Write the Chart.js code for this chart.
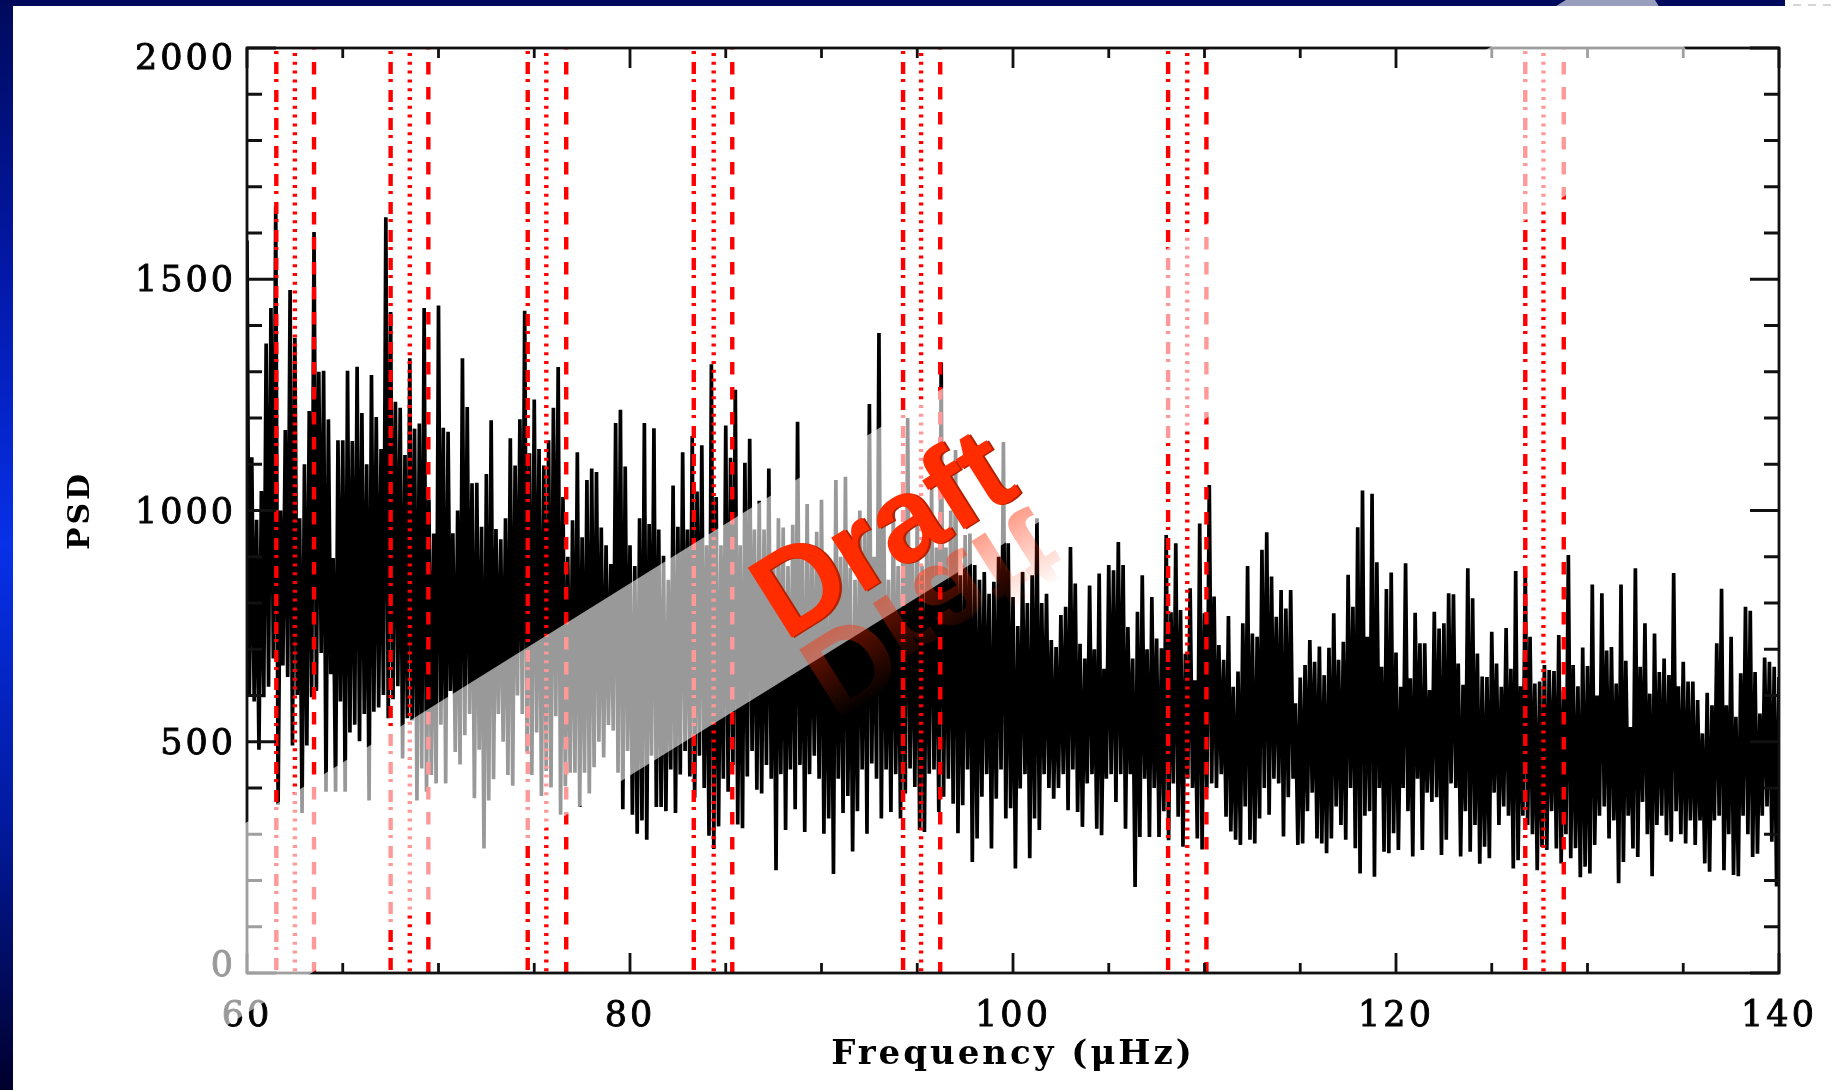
<!DOCTYPE html>
<html><head><meta charset="utf-8">
<style>html,body{margin:0;padding:0;background:#fff}canvas{display:block}</style>
<script src="https://cdn.jsdelivr.net/npm/chart.js@4"></script>
</head><body>
<div style="width:1834px;height:1090px;position:relative"><canvas id="c" width="1834" height="1090"></canvas></div>
<script>
const xLabel = 'Frequency (μHz)';
const yLabel = 'PSD';
const startHz = 60;
const stepHz = 0.25;
const upperPeaks = [
1584,1115,980,1042,1361,1438,1657,1000,1174,1477,
1373,983,1100,1215,1602,1300,1302,1197,897,1152,
1152,1302,1150,1311,1211,1100,1293,1202,1133,1634,
1429,1235,1222,1120,1329,1177,1188,1438,1024,950,
1443,1179,1170,951,1000,1329,1224,1059,1060,965,
1079,1195,960,938,983,1156,1097,1197,1432,1124,
1240,1133,1097,1152,1222,1310,1029,900,979,1126,
942,1066,1091,1083,963,925,884,1189,1218,1095,
925,880,983,1189,971,1178,959,902,850,1054,
965,1126,959,1161,1041,1141,925,1316,1029,925,
1184,1114,1261,925,1103,1155,959,1021,959,1091,
900,983,963,880,969,1192,900,1014,917,954,
1023,860,880,1066,900,1073,876,850,1000,975,
1230,900,1384,1000,850,1000,880,950,1200,900,
1000,880,950,1050,920,1320,920,1000,1131,860,
947,950,882,850,867,820,846,900,1148,929,
813,750,867,800,860,983,800,820,720,705,
774,792,921,842,712,680,838,700,864,658,
882,871,932,882,748,680,781,860,700,813,
723,702,947,780,929,785,690,832,633,972,
778,1055,814,709,677,772,619,652,756,880,
734,727,915,953,857,770,828,788,828,583,
639,666,720,673,706,644,703,778,677,716,
861,792,964,1043,727,1036,888,662,830,866,
693,619,886,637,779,713,713,612,781,745,
756,821,819,669,623,875,810,691,641,640,
738,669,619,746,658,869,620,878,727,626,
630,666,655,653,731,610,904,666,620,704,
664,840,600,821,697,705,626,840,675,532,
875,662,756,604,734,651,680,644,865,620,
673,630,630,590,518,606,579,713,831,579,
727,554,648,792,783,651,561,682,673,662,
640];
const lowerTroughs = [
601,587,483,596,619,680,364,665,640,492,
601,346,492,596,610,692,392,646,392,587,
392,520,537,501,560,373,565,574,601,551,
592,620,464,551,546,373,442,392,428,410,
537,410,610,478,451,514,560,378,483,269,
373,419,560,500,428,405,600,560,478,428,
520,383,437,401,555,342,404,433,433,359,
433,388,445,500,466,536,524,433,354,480,
342,301,330,288,470,359,359,350,440,346,
429,480,425,379,470,400,297,268,317,420,
392,450,321,313,425,480,396,388,450,420,
222,430,309,440,354,450,305,430,470,420,
301,334,214,420,346,383,263,350,440,301,
453,420,334,440,348,430,334,388,442,402,
309,305,431,440,348,381,420,366,302,363,
440,240,291,381,430,269,377,440,334,356,
226,399,430,248,334,309,430,400,377,400,
430,352,440,348,316,410,430,312,298,420,
430,370,430,312,430,186,294,420,294,400,
294,350,287,410,338,273,420,400,291,267,
400,410,400,430,338,306,288,277,360,288,
280,334,400,342,420,410,295,380,420,277,
280,350,390,291,280,259,291,360,320,288,
400,270,215,340,350,208,400,262,259,302,
266,400,350,252,420,266,390,370,380,255,
288,410,400,252,350,262,320,236,273,248,
390,320,360,340,226,244,340,320,300,222,
273,266,350,269,237,300,248,270,207,230,
215,277,340,360,291,330,194,240,340,269,
251,370,300,209,320,340,298,284,350,300,
280,330,277,330,237,219,330,340,222,300,
212,209,340,300,251,258,340,360,284,187,
250];
const dashDotHz = [61.53,67.5,74.66,83.33,94.26,108.1,126.75];
const dottedHz  = [62.5,68.5,75.63,84.37,95.2,109.1,127.7];
const dashedHz  = [63.5,69.47,76.67,85.34,96.2,110.1,128.76];
const xTickLabels = [60,80,100,120,140];
const yTickLabels = [0,500,1000,1500,2000];
const psdRange = [0,2000];
const hzRange = [60,140];

const spectrum = [];
upperPeaks.forEach((p,i)=>{
  spectrum.push({x:startHz+i*stepHz,y:p});
  spectrum.push({x:startHz+(i+0.5)*stepHz,y:lowerTroughs[i]});
});
function marker(hzList,dash,offset){
  return hzList.map(h=>({type:'line',data:[{x:h,y:psdRange[1]},{x:h,y:psdRange[0]}],
    borderColor:'#ff0000',borderWidth:4.4,borderDash:dash,borderDashOffset:offset,
    pointRadius:0,order:1,borderCapStyle:'butt',tension:0}));
}
const overlayPlugin={
  id:'overlay',
  beforeDraw(chart){
    const c=chart.ctx;
    c.save();
    c.fillStyle='#000a5c';c.fillRect(0,0,1785,6);
    const g=c.createLinearGradient(0,0,0,1090);
    g.addColorStop(0,'#000a5c');g.addColorStop(0.25,'#0318a8');g.addColorStop(0.5,'#0730e8');
    g.addColorStop(0.75,'#021aa0');g.addColorStop(1,'#00002c');
    c.fillStyle=g;c.fillRect(0,0,13,1090);
    c.strokeStyle='#c8c8c8';c.lineWidth=1.5;c.setLineDash([8,7]);
    c.beginPath();c.moveTo(1793,5);c.lineTo(1834,5);c.stroke();
    c.restore();
    c.letterSpacing='3px';
    const items=chart.scales.y.getLabelItems();
    items.forEach(it=>{
      if(it.__done)return;it.__done=true;
      if(it.label==='2000')it.options.translation[1]+=9;
      if(it.label==='0')it.options.translation[1]-=9;
      it.options.translation[1]+=3;
    });
  },
  afterDraw(chart){
    const c=chart.ctx,a=chart.chartArea,sx=chart.scales.x,sy=chart.scales.y;
    c.save();
    c.letterSpacing='0px';
    c.strokeStyle='#111';c.lineWidth=2.8;c.setLineDash([]);
    c.strokeRect(a.left,a.top,a.right-a.left,a.bottom-a.top);
    c.beginPath();
    sx.ticks.forEach((t,i)=>{
      const p=sx.getPixelForTick(i),l=t.value%20===0?20:10;
      c.moveTo(p,a.top);c.lineTo(p,a.top+l);c.moveTo(p,a.bottom);c.lineTo(p,a.bottom-l);
    });
    sy.ticks.forEach((t,i)=>{
      const p=sy.getPixelForTick(i),l=t.value%500===0?29:15;
      c.moveTo(a.left,p);c.lineTo(a.left+l,p);c.moveTo(a.right,p);c.lineTo(a.right-l,p);
    });
    c.stroke();
    c.beginPath();c.rect(13,0,1821,1090);c.clip();
    c.fillStyle='rgba(255,255,255,0.6)';
    c.beginPath();c.moveTo(1630,-40);c.lineTo(1718,101);c.lineTo(13,1158);c.lineTo(13,968);c.closePath();c.fill();
    const ang=-32.2*Math.PI/180;
    c.font='bold 120px "Liberation Sans"';c.textAlign='left';c.textBaseline='alphabetic';
    c.save();c.translate(785,642);c.rotate(ang);
    c.save();c.translate(0,14);c.scale(1,-1);
    const rg=c.createLinearGradient(0,0,0,-82);
    rg.addColorStop(0,'rgba(255,42,0,0.45)');rg.addColorStop(1,'rgba(255,42,0,0)');
    c.fillStyle=rg;c.fillText('Draft',0,0);c.restore();
    c.fillStyle='#b42000';c.fillText('Draft',2,1.5);
    c.fillStyle='#ff2c00';c.fillText('Draft',0,0);
    c.restore();
    c.restore();
  }
};
new Chart(document.getElementById('c'),{
  type:'line',
  data:{datasets:[
    ...marker(dashDotHz,[12,5,3,8],14),
    ...marker(dottedHz,[3,5.8],3.8),
    ...marker(dashedHz,[12.5,12.5],11),
    {type:'line',data:spectrum,borderColor:'#000',borderWidth:3.7,pointRadius:0,tension:0,
     borderJoinStyle:'bevel',order:2}
  ]},
  plugins:[overlayPlugin],
  options:{
    responsive:false,animation:false,parsing:true,
    layout:{padding:{left:0,right:55,top:48,bottom:0}},
    plugins:{legend:{display:false},tooltip:{enabled:false},title:{display:false}},
    scales:{
      x:{type:'linear',min:hzRange[0],max:hzRange[1],
        grid:{display:false},border:{display:false},
        afterFit(s){s.height=117;},
        ticks:{stepSize:5,autoSkip:false,maxRotation:0,padding:15,color:'#000',
          textStrokeColor:'#000',textStrokeWidth:0.9,
          font:{family:'"DejaVu Serif"',size:35},
          callback:v=>xTickLabels.includes(v)?String(v):''},
        title:{display:true,text:xLabel,color:'#000',font:{family:'"DejaVu Serif"',size:34,weight:'bold'},padding:{top:0,bottom:14}}},
      y:{type:'linear',min:psdRange[0],max:psdRange[1],
        grid:{display:false},border:{display:false},
        afterFit(s){s.width=247;},
        ticks:{stepSize:100,autoSkip:false,padding:3,color:'#000',
          textStrokeColor:'#000',textStrokeWidth:0.9,
          font:{family:'"DejaVu Serif"',size:35},
          callback:v=>yTickLabels.includes(v)?String(v):''},
        title:{display:true,text:yLabel,color:'#000',font:{family:'"DejaVu Serif"',size:30,weight:'bold'},padding:{top:63,bottom:0}}}
    }
  }
});
</script>
</body></html>
